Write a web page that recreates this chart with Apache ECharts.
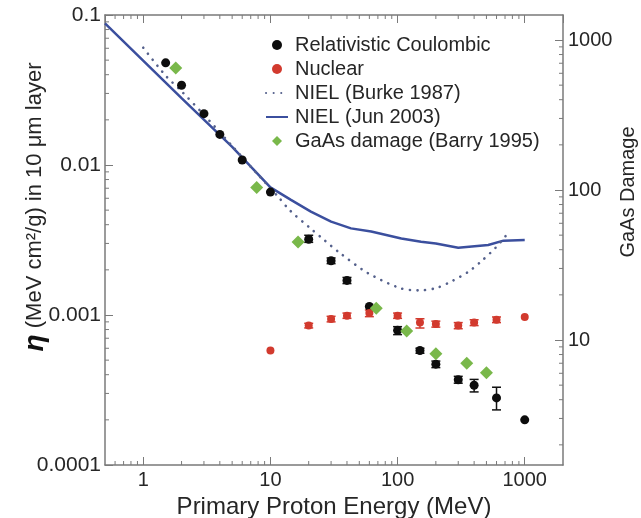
<!DOCTYPE html>
<html><head><meta charset="utf-8">
<script src="https://cdn.jsdelivr.net/npm/echarts@6/dist/echarts.min.js"></script>
<style>html,body{margin:0;padding:0;background:#fff}#c{width:641px;height:518px}</style>
</head><body><div id="c"></div>
<script>
// ---- data ----
const coulombEnergy = [1.5, 2, 3, 4, 6, 10, 20, 30, 40, 60, 100, 150, 200, 300, 400, 600, 1000];
const coulombValue  = [0.048, 0.034, 0.022, 0.016, 0.0108, 0.0066, 0.0032, 0.0023, 0.0017, 0.00114, 0.00079, 0.00058, 0.00047, 0.00037, 0.00034, 0.00028, 0.0002];
const coulombLow    = [null, null, null, null, null, null, 0.00305, 0.0022, 0.00162, null, 0.00074, 0.000556, 0.000446, 0.000351, 0.000307, 0.000233, null];
const coulombHigh   = [null, null, null, null, null, null, 0.0034, 0.0024, 0.00178, null, 0.000836, 0.0006, 0.000493, 0.00039, 0.000372, 0.00033, null];

const nuclearEnergy = [10, 20, 30, 40, 60, 100, 150, 200, 300, 400, 600, 1000];
const nuclearValue  = [0.00058, 0.00085, 0.00094, 0.00099, 0.00103, 0.00099, 0.00089, 0.00087, 0.00085, 0.00089, 0.00093, 0.00097];
const nuclearLow    = [null, 0.00082, 0.0009, 0.00095, 0.000975, 0.00095, 0.000819, 0.00083, 0.00081, 0.00085, 0.00089, null];
const nuclearHigh   = [null, 0.00088, 0.00098, 0.00103, 0.00108, 0.00103, 0.000944, 0.00091, 0.00089, 0.00093, 0.00097, null];

const burkeEnergy = [1, 1.5, 2, 3, 5, 8, 11.4, 14.3, 20.6, 26.5, 34.2, 58, 105, 145, 200, 270, 360, 460, 590, 730];
const burkeValue  = [0.0605, 0.0394, 0.031, 0.0216, 0.0134, 0.0086, 0.0062, 0.00496, 0.00379, 0.00316, 0.00264, 0.00191, 0.00151, 0.00146, 0.00151, 0.00169, 0.00194, 0.0023, 0.00281, 0.00347];

const junEnergy = [0.5, 2, 5, 10, 14.5, 20.8, 30, 43, 62, 107, 153, 200, 300, 516, 680, 1000];
const junValue  = [0.088, 0.0279, 0.0132, 0.0071, 0.00585, 0.00489, 0.00419, 0.00378, 0.0036, 0.00324, 0.00308, 0.003, 0.00281, 0.00293, 0.00313, 0.00316];

const gaasEnergy = [1.8, 7.8, 16.5, 68, 118, 200, 350, 500];
const gaasDamage = [650, 104, 45, 16.3, 11.5, 8.1, 7.0, 6.05];

const legendNames = ['Relativistic Coulombic', 'Nuclear', 'NIEL (Burke 1987)', 'NIEL (Jun 2003)', 'GaAs damage (Barry 1995)'];
const xTitle = 'Primary Proton Energy (MeV)';
const yTitleRich = '{eta|η} (MeV cm²/g) in 10 μm layer';
const y2Title = 'GaAs Damage';

const xMin = 0.5, xMax = 2000, yMin = 0.0001, yMax = 0.1, y2Min = 1.468, y2Max = 1468;

// ---- helpers ----
const pairs = (xs, ys) => xs.map((x, i) => [x, ys[i]]);
const errs = (xs, lo, hi) => xs.map((x, i) => lo[i] == null ? null : [x, lo[i], hi[i]]).filter(Boolean);
function minorList(lo, hi) {
  const out = [];
  for (let e = Math.floor(Math.log10(lo)); e <= Math.ceil(Math.log10(hi)); e++) {
    for (let m = 2; m <= 9; m++) {
      const v = +(m * Math.pow(10, e)).toPrecision(6);
      if (v > lo * 1.0001 && v < hi * 0.9999) out.push(v);
    }
  }
  return out;
}
const FONT = 'Liberation Sans';
const AX = '#7a7a7a';
const TXT = '#262626';
// diamond icon padded to the legend item box so it keeps a square shape
const diamondIcon = 'path://M0,0M22,0M22,11M0,11M11,0L16.5,5.5L11,11L5.5,5.5Z';

function errRender(color) {
  return function (params, api) {
    const x = api.value(0);
    const lo = api.coord([x, api.value(1)]);
    const hi = api.coord([x, api.value(2)]);
    const hw = 4.5;
    const st = { stroke: color, lineWidth: 1.5 };
    return { type: 'group', children: [
      { type: 'line', shape: { x1: lo[0], y1: lo[1], x2: hi[0], y2: hi[1] }, style: st },
      { type: 'line', shape: { x1: lo[0] - hw, y1: lo[1], x2: lo[0] + hw, y2: lo[1] }, style: st },
      { type: 'line', shape: { x1: hi[0] - hw, y1: hi[1], x2: hi[0] + hw, y2: hi[1] }, style: st }
    ]};
  };
}
const minorLen = 4;
function xMinorRender(params, api) {
  const x = api.value(0);
  const b = api.coord([x, yMin]);
  const t = api.coord([x, yMax]);
  const st = { stroke: AX, lineWidth: 1 };
  return { type: 'group', children: [
    { type: 'line', shape: { x1: b[0], y1: b[1], x2: b[0], y2: b[1] - minorLen }, style: st },
    { type: 'line', shape: { x1: t[0], y1: t[1], x2: t[0], y2: t[1] + minorLen }, style: st }
  ]};
}
function yMinorRender(params, api) {
  const p = api.coord([xMin, api.value(1)]);
  return { type: 'line', shape: { x1: p[0], y1: p[1], x2: p[0] + minorLen, y2: p[1] }, style: { stroke: AX, lineWidth: 1 } };
}
function y2MinorRender(params, api) {
  const p = api.coord([xMax, api.value(1)]);
  return { type: 'line', shape: { x1: p[0], y1: p[1], x2: p[0] - minorLen, y2: p[1] }, style: { stroke: AX, lineWidth: 1 } };
}
const decadeFmt = v => {
  const l = Math.log10(v);
  return Math.abs(l - Math.round(l)) < 1e-6 ? String(+v.toPrecision(6)) : '';
};

const chart = echarts.init(document.getElementById('c'), null, { renderer: 'canvas' });
const option = {
  backgroundColor: '#fff',
  animation: false,
  textStyle: { fontFamily: FONT },
  grid: { left: 105, right: 78, top: 15, bottom: 53, containLabel: false, outerBoundsMode: 'none' },
  graphic: [
    { type: 'text', x: 35, y: 207, rotation: Math.PI / 2, silent: true,
      style: { text: yTitleRich, align: 'center', verticalAlign: 'middle', fontFamily: FONT, fontSize: 22, fill: TXT,
        rich: { eta: { fontFamily: FONT, fontSize: 28, fontWeight: 'bold', fontStyle: 'italic', fill: '#111' } } } },
    { type: 'text', x: 628, y: 192, rotation: Math.PI / 2, silent: true,
      style: { text: y2Title, align: 'center', verticalAlign: 'middle', fontFamily: FONT, fontSize: 20, fill: TXT } }
  ],
  legend: {
    data: [
      { name: legendNames[0], icon: 'circle' },
      { name: legendNames[1], icon: 'circle' },
      { name: legendNames[2], itemStyle: { opacity: 0 } },
      { name: legendNames[3], itemStyle: { opacity: 0 } },
      { name: legendNames[4], icon: diamondIcon }
    ],
    orient: 'vertical',
    left: 260, top: 30,
    itemWidth: 22, itemHeight: 10, itemGap: 4,
    textStyle: { fontFamily: FONT, fontSize: 20, color: TXT, padding: [0, 0, 0, 2] },
    selectedMode: false
  },
  xAxis: [{
    type: 'log', logBase: 10, min: xMin, max: xMax, position: 'bottom',
    name: xTitle, nameLocation: 'middle', nameGap: 26,
    nameTextStyle: { fontFamily: FONT, fontSize: 24, color: TXT },
    axisLine: { show: true, lineStyle: { color: AX, width: 1.5 } },
    axisTick: { show: true, inside: true, length: 8, lineStyle: { color: AX, width: 1 } },
    axisLabel: { formatter: decadeFmt, fontFamily: FONT, fontSize: 20, color: TXT, margin: 5, showMinLabel: false, showMaxLabel: false },
    splitLine: { show: false }
  }, {
    type: 'log', logBase: 10, min: xMin, max: xMax, position: 'top',
    axisLine: { show: true, lineStyle: { color: AX, width: 1.5 } },
    axisTick: { show: true, inside: true, length: 8, lineStyle: { color: AX, width: 1 } },
    axisLabel: { show: false }, splitLine: { show: false }
  }],
  yAxis: [{
    type: 'log', logBase: 10, min: yMin, max: yMax, position: 'left',
    axisLine: { show: true, lineStyle: { color: AX, width: 1.5 } },
    axisTick: { show: true, inside: true, length: 8, lineStyle: { color: AX, width: 1 } },
    axisLabel: { formatter: decadeFmt, fontFamily: FONT, fontSize: 21, color: TXT, margin: 4 },
    splitLine: { show: false }
  }, {
    type: 'log', logBase: 10, min: y2Min, max: y2Max, position: 'right',
    axisLine: { show: true, lineStyle: { color: AX, width: 1.5 } },
    axisTick: { show: true, inside: true, length: 8, lineStyle: { color: AX, width: 1 } },
    axisLabel: { formatter: decadeFmt, fontFamily: FONT, fontSize: 20, color: TXT, margin: 5, showMinLabel: false, showMaxLabel: false },
    splitLine: { show: false }
  }],
  series: [
    { name: '_xminor', type: 'custom', xAxisIndex: 0, yAxisIndex: 0, renderItem: xMinorRender, data: minorList(xMin, xMax).map(v => [v, yMin]), encode: { x: 0, y: 1 }, clip: false, silent: true, z: 1 },
    { name: '_yminor', type: 'custom', xAxisIndex: 0, yAxisIndex: 0, renderItem: yMinorRender, data: minorList(yMin, yMax).map(v => [xMin, v]), encode: { x: 0, y: 1 }, clip: false, silent: true, z: 1 },
    { name: '_y2minor', type: 'custom', xAxisIndex: 0, yAxisIndex: 1, renderItem: y2MinorRender, data: minorList(y2Min, y2Max).map(v => [xMax, v]), encode: { x: 0, y: 1 }, clip: false, silent: true, z: 1 },
    { name: legendNames[3], type: 'line', xAxisIndex: 0, yAxisIndex: 0, data: pairs(junEnergy, junValue), showSymbol: false, symbol: 'none',
      lineStyle: { color: '#3b4f9e', width: 2.5 }, itemStyle: { color: '#3b4f9e' }, z: 2 },
    { name: legendNames[2], type: 'line', xAxisIndex: 0, yAxisIndex: 0, data: pairs(burkeEnergy, burkeValue), showSymbol: false, symbol: 'none', smooth: 0.3,
      lineStyle: { color: '#55618c', width: 2.6, type: [0.1, 7.5], cap: 'round' }, itemStyle: { color: '#55618c' }, z: 2 },
    { name: '_coulErr', type: 'custom', xAxisIndex: 0, yAxisIndex: 0, renderItem: errRender('#111'), data: errs(coulombEnergy, coulombLow, coulombHigh), encode: { x: 0, y: [1, 2] }, z: 3 },
    { name: '_nucErr', type: 'custom', xAxisIndex: 0, yAxisIndex: 0, renderItem: errRender('#d23a2e'), data: errs(nuclearEnergy, nuclearLow, nuclearHigh), encode: { x: 0, y: [1, 2] }, z: 3 },
    { name: legendNames[0], type: 'scatter', xAxisIndex: 0, yAxisIndex: 0, data: pairs(coulombEnergy, coulombValue), symbol: 'circle', symbolSize: 9,
      itemStyle: { color: '#0d0d0d', opacity: 1 }, z: 4 },
    { name: legendNames[1], type: 'scatter', xAxisIndex: 0, yAxisIndex: 0, data: pairs(nuclearEnergy, nuclearValue), symbol: 'circle', symbolSize: 8,
      itemStyle: { color: '#d23a2e', opacity: 1 }, z: 4 },
    { name: legendNames[4], type: 'scatter', xAxisIndex: 0, yAxisIndex: 1, data: pairs(gaasEnergy, gaasDamage), symbol: 'diamond', symbolSize: [13, 13],
      itemStyle: { color: '#79b84a', opacity: 1 }, z: 5 }
  ]
};
chart.setOption(option);
</script>
</body></html>
